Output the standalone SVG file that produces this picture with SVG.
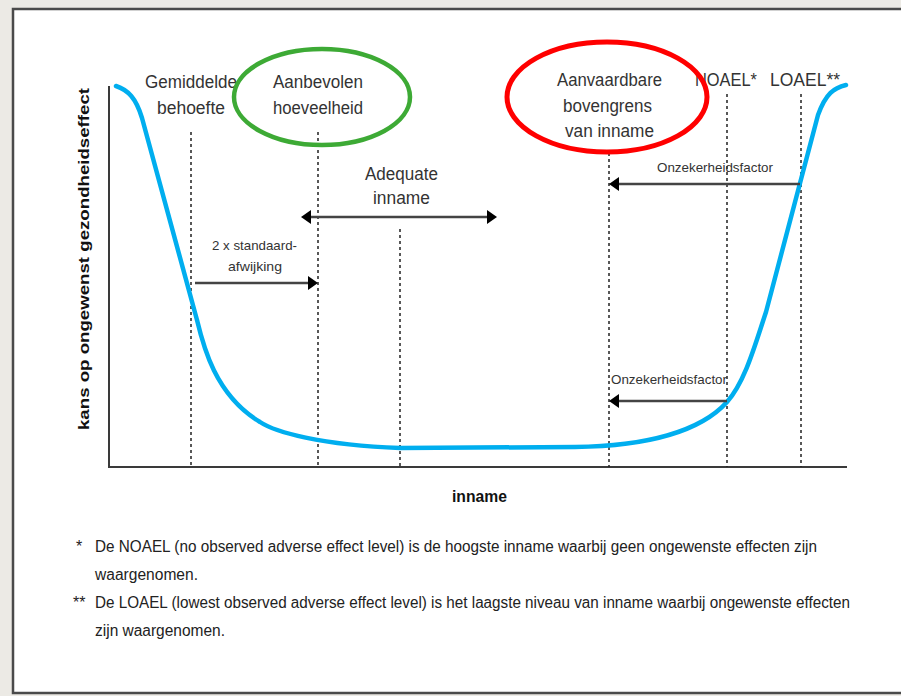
<svg xmlns="http://www.w3.org/2000/svg" width="901" height="696" viewBox="0 0 901 696">
<style>
.lbl{font-family:"Liberation Sans",Arial,sans-serif;font-size:17.5px;fill:#333;}
.sm{font-family:"Liberation Sans",Arial,sans-serif;font-size:13.5px;fill:#333;}
.bold{font-family:"Liberation Sans",Arial,sans-serif;font-weight:bold;fill:#111;}
.fn{font-family:"Liberation Sans",Arial,sans-serif;font-size:16px;fill:#222;}
.dash{stroke:#222;stroke-width:1.5;stroke-dasharray:3 3;fill:none;}
.arr{stroke:#444;stroke-width:2.5;fill:none;}
</style>
<defs>
<marker id="head" viewBox="0 0 10 14" refX="0" refY="7" markerWidth="10" markerHeight="14" markerUnits="userSpaceOnUse" orient="auto-start-reverse">
<path d="M0,0 L10,7 L0,14 Z" fill="#000"/>
</marker>
</defs>
<rect x="0" y="0" width="901" height="696" fill="#ECEAE5"/>
<rect x="13" y="9" width="900" height="684" fill="#fff" stroke="#4a4a4a" stroke-width="2.5"/>

<g id="axes">
<path d="M109,86 L109,467 L847,467" fill="none" stroke="#3a3a3a" stroke-width="2"/>
<text class="bold" font-size="15" text-anchor="middle" transform="translate(89,259) rotate(-90)" textLength="342" lengthAdjust="spacingAndGlyphs">kans op ongewenst gezondheidseffect</text>
<text class="bold" font-size="16" x="452" y="502" textLength="55" lengthAdjust="spacingAndGlyphs">inname</text>
</g>

<g id="guides">
<line class="dash" x1="191" y1="132" x2="191" y2="467"/>
<line class="dash" x1="318" y1="132" x2="318" y2="467"/>
<line class="dash" x1="400" y1="229" x2="400" y2="467"/>
<line class="dash" x1="609" y1="153" x2="609" y2="467"/>
<line class="dash" x1="727" y1="94" x2="727" y2="467"/>
<line class="dash" x1="801" y1="94" x2="801" y2="467"/>
</g>

<g id="curve">
<path d="M116,86 C128,90 136,98 142,118 L197,320 C203,345 215,395 260,422 C275,432 320,445 400,448 L575,447 C645,446 700,432 727,402 C745,382 755,345 766,312 L818,115 C826,93 834,88 846,85" fill="none" stroke="#00AEEF" stroke-width="4.5" stroke-linecap="round" stroke-linejoin="round"/>
</g>

<g id="connectors">
<path class="arr" d="M195,283 L308,283" marker-end="url(#head)"/>
<path class="arr" d="M311,217 L487,217" marker-start="url(#head)" marker-end="url(#head)"/>
<path class="arr" d="M800,184 L619,184" marker-end="url(#head)"/>
<path class="arr" d="M727,401 L619,401" marker-end="url(#head)"/>
</g>

<g id="gemiddelde-behoefte">
<text class="lbl" x="145" y="88" textLength="92" lengthAdjust="spacingAndGlyphs">Gemiddelde</text>
<text class="lbl" x="157" y="114" textLength="68" lengthAdjust="spacingAndGlyphs">behoefte</text>
</g>

<g id="aanbevolen-hoeveelheid">
<text class="lbl" x="273" y="88" textLength="90" lengthAdjust="spacingAndGlyphs">Aanbevolen</text>
<text class="lbl" x="273" y="114" textLength="90" lengthAdjust="spacingAndGlyphs">hoeveelheid</text>
<ellipse cx="322" cy="97" rx="88" ry="48" fill="none" stroke="#3DAA35" stroke-width="4.5"/>
</g>

<g id="adequate-inname">
<text class="lbl" x="365" y="180" textLength="73" lengthAdjust="spacingAndGlyphs">Adequate</text>
<text class="lbl" x="373" y="204" textLength="57" lengthAdjust="spacingAndGlyphs">inname</text>
</g>

<g id="standaardafwijking">
<text class="sm" x="212" y="250" textLength="85" lengthAdjust="spacingAndGlyphs">2 x standaard-</text>
<text class="sm" x="228" y="271" textLength="54" lengthAdjust="spacingAndGlyphs">afwijking</text>
</g>

<g id="aanvaardbare-bovengrens">
<text class="lbl" x="557" y="86" textLength="105" lengthAdjust="spacingAndGlyphs">Aanvaardbare</text>
<text class="lbl" x="563" y="112" textLength="89" lengthAdjust="spacingAndGlyphs">bovengrens</text>
<text class="lbl" x="565" y="137" textLength="89" lengthAdjust="spacingAndGlyphs">van inname</text>
</g>

<g id="noael">
<text class="lbl" x="695" y="86" textLength="62" lengthAdjust="spacingAndGlyphs">NOAEL*</text>
</g>

<g id="loael">
<text class="lbl" x="770" y="86" textLength="70" lengthAdjust="spacingAndGlyphs">LOAEL**</text>
</g>

<g id="red-ellipse">
<ellipse cx="607" cy="97" rx="100" ry="55" fill="none" stroke="#FF0000" stroke-width="5"/>
</g>

<g id="onzekerheidsfactor-boven">
<text class="sm" x="657" y="172" textLength="116" lengthAdjust="spacingAndGlyphs">Onzekerheidsfactor</text>
</g>

<g id="onzekerheidsfactor-onder">
<text class="sm" x="611" y="384" textLength="116" lengthAdjust="spacingAndGlyphs">Onzekerheidsfactor</text>
</g>

<g id="footnotes">
<text class="fn" x="76" y="552">*</text>
<text class="fn" x="95" y="552" textLength="722" lengthAdjust="spacingAndGlyphs">De NOAEL (no observed adverse effect level) is de hoogste inname waarbij geen ongewenste effecten zijn</text>
<text class="fn" x="95" y="580" textLength="103" lengthAdjust="spacingAndGlyphs">waargenomen.</text>
<text class="fn" x="73" y="608">**</text>
<text class="fn" x="95" y="608" textLength="755" lengthAdjust="spacingAndGlyphs">De LOAEL (lowest observed adverse effect level) is het laagste niveau van inname waarbij ongewenste effecten</text>
<text class="fn" x="95" y="636" textLength="130" lengthAdjust="spacingAndGlyphs">zijn waargenomen.</text>
</g>
</svg>
